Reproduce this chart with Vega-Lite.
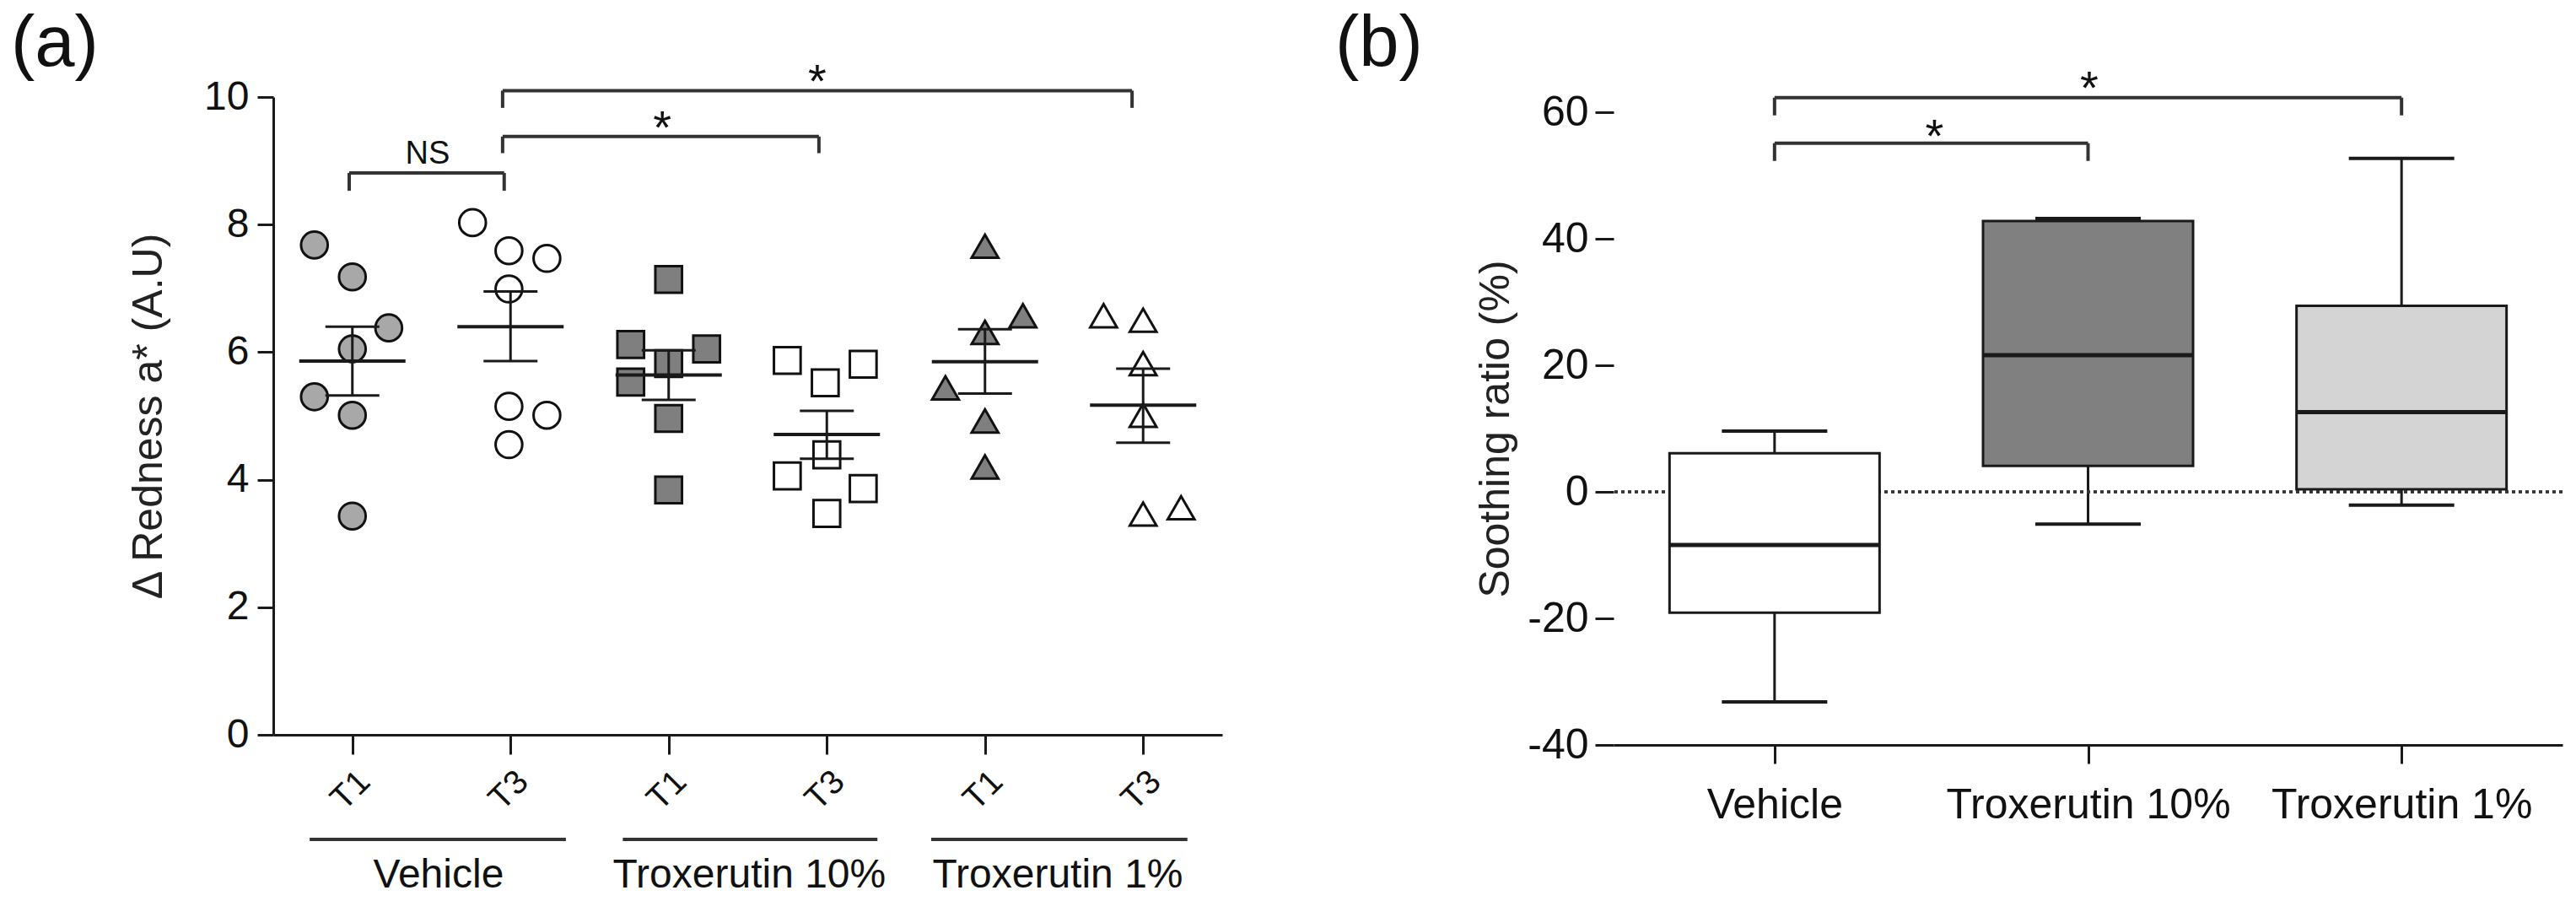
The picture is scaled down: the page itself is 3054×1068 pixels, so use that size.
{
  "$schema": "https://vega.github.io/schema/vega-lite/v6.json",
  "background": "white",
  "padding": {"left": 13, "top": 10, "right": 14, "bottom": 4},
  "bounds": "flush",
  "spacing": 464,
  "resolve": {"scale": {"fill": "independent"}},
  "config": {
    "font": "Liberation Sans",
    "view": {"stroke": null},
    "axis": {"grid": false, "domainColor": "#1a1a1a", "domainWidth": 3, "tickColor": "#1a1a1a", "tickWidth": 3, "labelColor": "#111111", "labelFont": "Liberation Sans", "titleFont": "Liberation Sans", "titleColor": "#222222", "titleFontWeight": "normal", "labelFlush": false, "labelOverlap": false, "labelLimit": 0},
    "title": {"font": "Liberation Sans", "fontWeight": "normal", "color": "#111111"}
  },
  "hconcat": [
    {
      "width": 1125,
      "height": 756,
      "title": {"text": "(a)", "anchor": "start", "frame": "group", "dx": -311, "dy": 93, "offset": 0, "fontSize": 85, "baseline": "alphabetic"},
      "layer": [
        {
          "data": {"values": [
            {"g": "V-T1", "x": 0.76, "y": 7.68}, {"g": "V-T1", "x": 1.0, "y": 7.18}, {"g": "V-T1", "x": 1.23, "y": 6.38}, {"g": "V-T1", "x": 1.0, "y": 6.05}, {"g": "V-T1", "x": 0.76, "y": 5.30}, {"g": "V-T1", "x": 1.0, "y": 5.01}, {"g": "V-T1", "x": 1.0, "y": 3.43},
            {"g": "V-T3", "x": 1.76, "y": 8.03}, {"g": "V-T3", "x": 1.99, "y": 7.59}, {"g": "V-T3", "x": 2.23, "y": 7.47}, {"g": "V-T3", "x": 1.99, "y": 6.99}, {"g": "V-T3", "x": 1.99, "y": 5.15}, {"g": "V-T3", "x": 2.23, "y": 5.01}, {"g": "V-T3", "x": 1.99, "y": 4.55},
            {"g": "X10-T1", "x": 3.0, "y": 7.14}, {"g": "X10-T1", "x": 2.76, "y": 6.12}, {"g": "X10-T1", "x": 3.24, "y": 6.05}, {"g": "X10-T1", "x": 3.0, "y": 5.82}, {"g": "X10-T1", "x": 2.76, "y": 5.53}, {"g": "X10-T1", "x": 3.0, "y": 4.96}, {"g": "X10-T1", "x": 3.0, "y": 3.84},
            {"g": "X10-T3", "x": 3.75, "y": 5.87}, {"g": "X10-T3", "x": 3.99, "y": 5.52}, {"g": "X10-T3", "x": 4.23, "y": 5.81}, {"g": "X10-T3", "x": 4.0, "y": 4.39}, {"g": "X10-T3", "x": 3.75, "y": 4.06}, {"g": "X10-T3", "x": 4.23, "y": 3.86}, {"g": "X10-T3", "x": 4.0, "y": 3.47},
            {"g": "X1-T1", "x": 5.0, "y": 7.66}, {"g": "X1-T1", "x": 5.24, "y": 6.57}, {"g": "X1-T1", "x": 5.0, "y": 6.31}, {"g": "X1-T1", "x": 4.75, "y": 5.44}, {"g": "X1-T1", "x": 5.0, "y": 4.92}, {"g": "X1-T1", "x": 5.0, "y": 4.20},
            {"g": "X1-T3", "x": 5.75, "y": 6.57}, {"g": "X1-T3", "x": 6.0, "y": 6.50}, {"g": "X1-T3", "x": 6.0, "y": 5.82}, {"g": "X1-T3", "x": 6.0, "y": 5.01}, {"g": "X1-T3", "x": 6.0, "y": 3.46}, {"g": "X1-T3", "x": 6.24, "y": 3.56}
          ]},
          "mark": {"type": "point", "filled": true, "stroke": "#111111", "strokeWidth": 3, "opacity": 1, "size": 1000},
          "encoding": {
            "x": {"field": "x", "type": "quantitative", "scale": {"domain": [0.5, 6.5], "nice": false, "zero": false},
                  "axis": {"title": null, "values": [1, 2, 3, 4, 5, 6], "labelExpr": "datum.value % 2 == 1 ? 'T1' : 'T3'", "labelAngle": -45, "labelFontSize": 40, "tickSize": 23, "labelPadding": 12}},
            "y": {"field": "y", "type": "quantitative", "scale": {"domain": [0, 10], "nice": false, "zero": false},
                  "axis": {"title": "Δ Redness a* (A.U)", "values": [0, 2, 4, 6, 8, 10], "labelExpr": "'' + datum.value", "tickSize": 19, "labelFontSize": 48, "labelPadding": 10, "titleFontSize": 50, "titlePadding": 40}},
            "fill": {"field": "g", "type": "nominal", "legend": null, "scale": {"domain": ["V-T1", "V-T3", "X10-T1", "X10-T3", "X1-T1", "X1-T3"], "range": ["#a8a8a8", "#ffffff", "#7f7f7f", "#ffffff", "#7f7f7f", "#ffffff"]}},
            "shape": {"field": "g", "type": "nominal", "legend": null, "scale": {"domain": ["V-T1", "V-T3", "X10-T1", "X10-T3", "X1-T1", "X1-T3"], "range": ["circle", "circle", "square", "square", "triangle-up", "triangle-up"]}}
          }
        },
        {
          "data": {"values": [
            {"x": 1, "mean": 5.86, "lo": 5.32, "hi": 6.40},
            {"x": 2, "mean": 6.40, "lo": 5.86, "hi": 6.95},
            {"x": 3, "mean": 5.64, "lo": 5.25, "hi": 6.03},
            {"x": 4, "mean": 4.71, "lo": 4.33, "hi": 5.08},
            {"x": 5, "mean": 5.85, "lo": 5.35, "hi": 6.36},
            {"x": 6, "mean": 5.17, "lo": 4.58, "hi": 5.74}
          ]},
          "layer": [
            {"mark": {"type": "rule", "strokeWidth": 3, "color": "#1a1a1a"},
             "encoding": {"x": {"field": "x", "type": "quantitative", "scale": {"domain": [0.5, 6.5]}}, "y": {"field": "lo", "type": "quantitative", "scale": {"domain": [0, 10]}}, "y2": {"field": "hi"}}},
            {"mark": {"type": "tick", "orient": "horizontal", "size": 126, "thickness": 4, "color": "#1a1a1a", "opacity": 1},
             "encoding": {"x": {"field": "x", "type": "quantitative", "scale": {"domain": [0.5, 6.5]}}, "y": {"field": "mean", "type": "quantitative", "scale": {"domain": [0, 10]}}}},
            {"mark": {"type": "tick", "orient": "horizontal", "size": 64, "thickness": 3, "color": "#1a1a1a", "opacity": 1},
             "encoding": {"x": {"field": "x", "type": "quantitative", "scale": {"domain": [0.5, 6.5]}}, "y": {"field": "lo", "type": "quantitative", "scale": {"domain": [0, 10]}}}},
            {"mark": {"type": "tick", "orient": "horizontal", "size": 64, "thickness": 3, "color": "#1a1a1a", "opacity": 1},
             "encoding": {"x": {"field": "x", "type": "quantitative", "scale": {"domain": [0.5, 6.5]}}, "y": {"field": "hi", "type": "quantitative", "scale": {"domain": [0, 10]}}}}
          ]
        },
        {
          "data": {"values": [
            {"x": 0.98, "x2": 1.96, "y": 8.81, "y2": 8.81}, {"x": 0.98, "x2": 0.98, "y": 8.53, "y2": 8.81}, {"x": 1.96, "x2": 1.96, "y": 8.53, "y2": 8.81},
            {"x": 1.95, "x2": 3.95, "y": 9.38, "y2": 9.38}, {"x": 1.95, "x2": 1.95, "y": 9.12, "y2": 9.38}, {"x": 3.95, "x2": 3.95, "y": 9.12, "y2": 9.38},
            {"x": 1.95, "x2": 5.93, "y": 10.1, "y2": 10.1}, {"x": 1.95, "x2": 1.95, "y": 9.83, "y2": 10.1}, {"x": 5.93, "x2": 5.93, "y": 9.83, "y2": 10.1},
            {"x": 0.73, "x2": 2.35, "y": -1.64, "y2": -1.64}, {"x": 2.71, "x2": 4.32, "y": -1.64, "y2": -1.64}, {"x": 4.66, "x2": 6.28, "y": -1.64, "y2": -1.64}
          ]},
          "mark": {"type": "rule", "strokeWidth": 4, "color": "#333333"},
          "encoding": {
            "x": {"field": "x", "type": "quantitative", "scale": {"domain": [0.5, 6.5]}},
            "x2": {"field": "x2"},
            "y": {"field": "y", "type": "quantitative", "scale": {"domain": [0, 10]}},
            "y2": {"field": "y2"}
          }
        },
        {
          "data": {"values": [
            {"x": 1.476, "y": 8.96, "t": "NS"}
          ]},
          "mark": {"type": "text", "fontSize": 38, "baseline": "alphabetic", "align": "center", "color": "#111111"},
          "encoding": {
            "x": {"field": "x", "type": "quantitative", "scale": {"domain": [0.5, 6.5]}},
            "y": {"field": "y", "type": "quantitative", "scale": {"domain": [0, 10]}},
            "text": {"field": "t"}
          }
        },
        {
          "data": {"values": [
            {"x": 2.96, "y": 9.27, "t": "*"},
            {"x": 3.94, "y": 10.0, "t": "*"}
          ]},
          "mark": {"type": "text", "fontSize": 56, "baseline": "alphabetic", "align": "center", "color": "#111111"},
          "encoding": {
            "x": {"field": "x", "type": "quantitative", "scale": {"domain": [0.5, 6.5]}},
            "y": {"field": "y", "type": "quantitative", "scale": {"domain": [0, 10]}},
            "text": {"field": "t"}
          }
        },
        {
          "data": {"values": [
            {"x": 1.545, "y": -2.39, "t": "Vehicle"},
            {"x": 3.51, "y": -2.39, "t": "Troxerutin 10%"},
            {"x": 5.46, "y": -2.39, "t": "Troxerutin 1%"}
          ]},
          "mark": {"type": "text", "fontSize": 48, "baseline": "alphabetic", "align": "center", "color": "#111111"},
          "encoding": {
            "x": {"field": "x", "type": "quantitative", "scale": {"domain": [0.5, 6.5]}},
            "y": {"field": "y", "type": "quantitative", "scale": {"domain": [0, 10]}},
            "text": {"field": "t"}
          }
        }
      ]
    },
    {
      "width": 1125,
      "height": 768,
      "title": {"text": "(b)", "anchor": "start", "frame": "group", "dx": -330, "dy": 85, "offset": 0, "fontSize": 85, "baseline": "alphabetic"},
      "layer": [
        {
          "data": {"values": [
            {"g": "Vehicle", "x": 1, "min": -33.2, "q1": -19.1, "med": -8.4, "q3": 6.1, "max": 9.6},
            {"g": "Troxerutin 10%", "x": 2, "min": -5.1, "q1": 4.1, "med": 21.6, "q3": 42.8, "max": 43.2},
            {"g": "Troxerutin 1%", "x": 3, "min": -2.1, "q1": 0.4, "med": 12.6, "q3": 29.4, "max": 52.7}
          ]},
          "layer": [
            {"mark": {"type": "rule", "strokeWidth": 3, "color": "#1a1a1a"},
             "encoding": {
               "x": {"field": "x", "type": "quantitative", "scale": {"domain": [0.5, 3.5], "nice": false, "zero": false},
                     "axis": {"title": null, "values": [1, 2, 3], "labelExpr": "datum.value == 1 ? 'Vehicle' : datum.value == 2 ? 'Troxerutin 10%' : 'Troxerutin 1%'", "labelAngle": 0, "labelFontSize": 50, "tickSize": 22, "labelPadding": 24}},
               "y": {"field": "min", "type": "quantitative", "scale": {"domain": [-40, 62.4], "nice": false, "zero": false},
                     "axis": {"title": "Soothing ratio (%)", "values": [-40, -20, 0, 20, 40, 60], "labelExpr": "'' + datum.value", "domain": false, "tickSize": 22, "labelFontSize": 50, "labelPadding": 8, "titleFontSize": 50, "titlePadding": 12, "titleY": 393}},
               "y2": {"field": "max"}}},
            {"mark": {"type": "rule", "strokeWidth": 3, "color": "#333333", "strokeDash": [4, 4]},
             "encoding": {"y": {"datum": 0, "type": "quantitative", "scale": {"domain": [-40, 62.4]}}}},
            {"mark": {"type": "bar", "size": 249, "stroke": "#1a1a1a", "strokeWidth": 3},
             "encoding": {
               "x": {"field": "x", "type": "quantitative", "scale": {"domain": [0.5, 3.5]}},
               "y": {"field": "q1", "type": "quantitative", "scale": {"domain": [-40, 62.4]}},
               "y2": {"field": "q3"},
               "fill": {"field": "g", "type": "nominal", "legend": null, "scale": {"domain": ["Vehicle", "Troxerutin 10%", "Troxerutin 1%"], "range": ["#ffffff", "#808080", "#d4d4d4"]}}}},
            {"mark": {"type": "tick", "orient": "horizontal", "size": 249, "thickness": 5, "color": "#1a1a1a", "opacity": 1},
             "encoding": {
               "x": {"field": "x", "type": "quantitative", "scale": {"domain": [0.5, 3.5]}},
               "y": {"field": "med", "type": "quantitative", "scale": {"domain": [-40, 62.4]}}}},
            {"mark": {"type": "tick", "orient": "horizontal", "size": 125, "thickness": 4, "color": "#1a1a1a", "opacity": 1},
             "encoding": {
               "x": {"field": "x", "type": "quantitative", "scale": {"domain": [0.5, 3.5]}},
               "y": {"field": "min", "type": "quantitative", "scale": {"domain": [-40, 62.4]}}}},
            {"mark": {"type": "tick", "orient": "horizontal", "size": 125, "thickness": 4, "color": "#1a1a1a", "opacity": 1},
             "encoding": {
               "x": {"field": "x", "type": "quantitative", "scale": {"domain": [0.5, 3.5]}},
               "y": {"field": "max", "type": "quantitative", "scale": {"domain": [-40, 62.4]}}}}
          ]
        },
        {
          "mark": {"type": "rule", "strokeWidth": 3, "color": "#1a1a1a"},
          "encoding": {
            "x": {"datum": 0.5, "type": "quantitative", "scale": {"domain": [0.5, 3.5]}},
            "y": {"datum": -40, "type": "quantitative", "scale": {"domain": [-40, 62.4]}},
            "y2": {"datum": 60}
          }
        },
        {
          "data": {"values": [
            {"x": 1.0, "x2": 3.0, "y": 62.3, "y2": 62.3}, {"x": 1.0, "x2": 1.0, "y": 59.5, "y2": 62.3}, {"x": 3.0, "x2": 3.0, "y": 59.5, "y2": 62.3},
            {"x": 1.0, "x2": 2.0, "y": 55.1, "y2": 55.1}, {"x": 1.0, "x2": 1.0, "y": 52.3, "y2": 55.1}, {"x": 2.0, "x2": 2.0, "y": 52.3, "y2": 55.1}
          ]},
          "mark": {"type": "rule", "strokeWidth": 4, "color": "#333333"},
          "encoding": {
            "x": {"field": "x", "type": "quantitative", "scale": {"domain": [0.5, 3.5]}},
            "x2": {"field": "x2"},
            "y": {"field": "y", "type": "quantitative", "scale": {"domain": [-40, 62.4]}},
            "y2": {"field": "y2"}
          }
        },
        {
          "data": {"values": [
            {"x": 1.51, "y": 53.7, "t": "*"},
            {"x": 2.004, "y": 61.3, "t": "*"}
          ]},
          "mark": {"type": "text", "fontSize": 56, "baseline": "alphabetic", "align": "center", "color": "#111111"},
          "encoding": {
            "x": {"field": "x", "type": "quantitative", "scale": {"domain": [0.5, 3.5]}},
            "y": {"field": "y", "type": "quantitative", "scale": {"domain": [-40, 62.4]}},
            "text": {"field": "t"}
          }
        }
      ]
    }
  ]
}
